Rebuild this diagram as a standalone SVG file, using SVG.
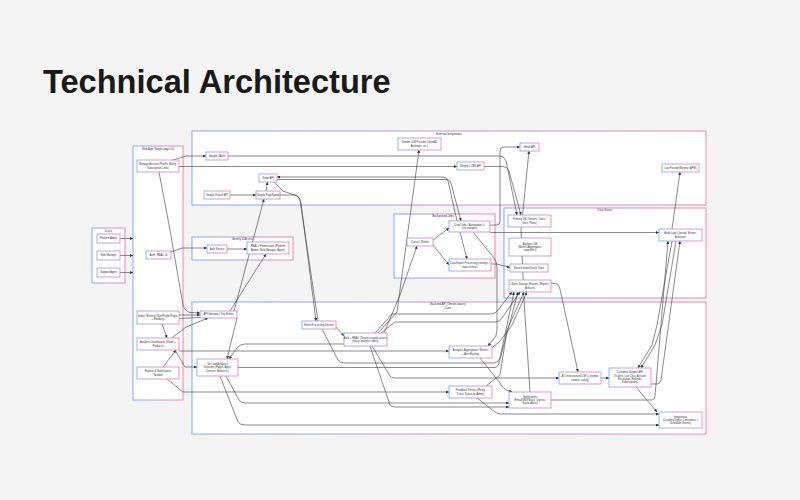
<svg xmlns="http://www.w3.org/2000/svg" width="800" height="500" viewBox="0 0 800 500">
<defs>
<linearGradient id="g" x1="0" y1="0" x2="1" y2="0"><stop offset="0" stop-color="#7f9ef7"/><stop offset="1" stop-color="#f07aa8"/></linearGradient>
<marker id="a" viewBox="0 0 6 6" refX="6" refY="3" markerWidth="3" markerHeight="3" orient="auto" markerUnits="userSpaceOnUse"><path d="M0,0 L6,3 L0,6 z" fill="#333"/></marker>
<style>
.cl rect{fill:#fff;stroke:url(#g);stroke-width:0.9}
.nd rect{fill:#fff;stroke:url(#g);stroke-width:0.8}
text{font-family:"Liberation Sans",Arial,sans-serif;fill:#333;text-anchor:middle}
.nd text{font-size:2.6px}
.cl text{font-size:2.8px}
#edges path{fill:none;stroke:#3a3a3a;stroke-width:0.6}
#edges path.ar{marker-end:url(#a)}
</style>
</defs>
<rect width="800" height="500" fill="#f4f4f4"/>
<text x="43" y="93" style="font-size:32.6px;font-weight:bold;fill:#1a1a1a;text-anchor:start">Technical Architecture</text>

<g id="clusters">
<g class="cl" id="c-users"><rect x="92" y="228" width="33" height="55"/><text x="108.5" y="231.5">Users</text></g>
<g class="cl" id="c-web"><rect x="133" y="146" width="50" height="254"/><text x="158" y="149.5">Web App (Single-page UI)</text></g>
<g class="cl" id="c-ext"><rect x="192" y="131" width="514" height="74"/><text x="449" y="134.5">External Integrations</text></g>
<g class="cl" id="c-id"><rect x="192" y="237" width="101" height="23"/><text x="242.5" y="240.3">Identity &amp; Access</text></g>
<g class="cl" id="c-jobs"><rect x="394" y="214" width="101" height="64"/><text x="443" y="217.3">Background Jobs</text></g>
<g class="cl" id="c-data"><rect x="504" y="208" width="202" height="90"/><text x="605" y="211.3">Data Stores</text></g>
<g class="cl" id="c-api"><rect x="192" y="302" width="514" height="132"/><text x="448" y="305.3">Backend API (Tenant-aware)</text><text x="448" y="309">Core</text></g>
</g>

<g id="edges">
<path class="ar" d="M120,238.5 L133,238.5"/>
<path class="ar" d="M120,255.5 L133,255.5"/>
<path class="ar" d="M120,272.5 L133,272.5"/>
<path class="ar" d="M173,160 L186,156 L206,156"/>
<path class="ar" d="M179,166.5 L457,166.5"/>
<path class="ar" d="M228,156 L500,156 Q504,156 506,161 L517,215"/>
<path class="ar" d="M484,166.5 L503,166.5 Q507,166.5 509,171 L521,215"/>
<path class="ar" d="M230,195 L256,195"/>
<path class="ar" d="M266,191 L267.5,182"/>
<path class="ar" d="M274,182 L283,191 L297,196 Q300,198 301,203 L316,321"/>
<path d="M280,195 L296,195 Q299,196 300,200 L318,321"/>
<path class="ar" d="M457,221 L448,181 Q447,177 443,177 L277,177"/>
<path class="ar" d="M277,179.5 L446,179.5 Q450,179.5 451,183 L461,221"/>
<path class="ar" d="M490,225 L497,225 Q500,225 500,221 L500,151 Q500,147 504,147 L520,147"/>
<path class="ar" d="M530,392 L524,300 L521,230 L529,151"/>
<path class="ar" d="M378,333 L397,312 L419,150"/>
<path class="ar" d="M384,333 L400,295 L417,246"/>
<path class="ar" d="M433,240 L449,228"/>
<path class="ar" d="M433,245 L449,265"/>
<path class="ar" d="M460,232 L467,259"/>
<path class="ar" d="M491,264 L497,264 L510,267.5"/>
<path class="ar" d="M490,232.5 L659,232.5"/>
<path class="ar" d="M473,232 L494,258 Q497,262 497,268 L497,330 Q497,336 493,340 L488,346"/>
<path class="ar" d="M672,229 L680,172"/>
<path class="ar" d="M171,252 L182,248 L207,248"/>
<path class="ar" d="M227,249 L247,249"/>
<path class="ar" d="M230,311 L266,254"/>
<path class="ar" d="M234,311 L264,199"/>
<path class="ar" d="M159,172 L170,230 L183,305 Q185,311 190,312.5 L200,313"/>
<path class="ar" d="M179,315 L200,315"/>
<path d="M179,318.5 L200,317.5"/>
<path class="ar" d="M162,324 L167,338"/>
<path class="ar" d="M172,338 L186,327 L208,318"/>
<path class="ar" d="M175,350 L185,367 L197,367"/>
<path class="ar" d="M179,351 L449,351"/>
<path class="ar" d="M163,367 L176,350"/>
<path class="ar" d="M167,379 L183,392 L449,392"/>
<path class="ar" d="M237,318 L227,359"/>
<path class="ar" d="M344,344 L245,344 Q240,344 237,348 L229,359"/>
<path class="ar" d="M238,367.5 L494,367.5 Q498,367.5 499,363 L518,292"/>
<path class="ar" d="M226,376 L239,400 Q241,403 246,403 L509,403"/>
<path class="ar" d="M370,346 L390,405 Q391,407 395,407 L509,407"/>
<path class="ar" d="M220,376 L238,422 Q240,425 245,425 L659,425"/>
<path class="ar" d="M372,346 L390,376 Q391,378 395,378 L559,378"/>
<path class="ar" d="M336,327 L344,336"/>
<path class="ar" d="M322,329 L338,360 Q340,363 345,363 L494,363 Q498,363 500,358 L514,292"/>
<path class="ar" d="M477,398 L495,412 Q497,414 501,414 L659,414"/>
<path class="ar" d="M486,386 L500,375 L507,330 L524,292"/>
<path class="ar" d="M492,348 L500,341 L512,325 L527,292"/>
<path class="ar" d="M480,358 L500,383 Q502,387 506,390 L512,392"/>
<path class="ar" d="M551,400 L652,400 Q655,400 655,396 L668,241"/>
<path class="ar" d="M651,384 L657,384 Q660,384 661,380 L680,241"/>
<path class="ar" d="M672,241 L657,325 L652,345 L638,368"/>
<path class="ar" d="M676,241 L662,325 L655,345 L641,368"/>
<path class="ar" d="M551,283 L557,284 Q559,285 560,289 L578,372"/>
<path class="ar" d="M601,378 L609,378"/>
<path class="ar" d="M636,387 L657,412"/>
<path class="ar" d="M375,333 L392,314 L490,314 Q496,314 498,310 L512,292"/>
<path class="ar" d="M381,333 L395,322 L495,322 Q500,322 502,318 L520,292"/>
</g>

<g class="nd" id="n-admin"><rect x="97" y="234" width="23" height="9"/><text x="108.5" y="239.4">Platform Admin</text></g>
<g class="nd" id="n-webmgr"><rect x="97" y="251" width="23" height="9"/><text x="108.5" y="256.4">Web Manager</text></g>
<g class="nd" id="n-agent"><rect x="97" y="268" width="23" height="9"/><text x="108.5" y="273.4">Support Agent</text></g>

<g class="nd" id="n-manage"><rect x="137" y="160" width="42" height="12"/><text x="158" y="165.25">Manage Account (Profile, Billing,</text><text x="158" y="168.55">Subscription Links)</text></g>
<g class="nd" id="n-authui"><rect x="146" y="251" width="25" height="8"/><text x="158.5" y="255.9">Auth / RBAC UI</text></g>
<g class="nd" id="n-index"><rect x="137" y="311" width="42" height="13"/><text x="158" y="316.75">Index / Refresh (Site/Profile/Pages</text><text x="158" y="320.05">+ Readers)</text></g>
<g class="nd" id="n-dash"><rect x="137" y="338" width="42" height="12"/><text x="158" y="343.25">Analytics Dashboards (Views +</text><text x="158" y="346.55">Products)</text></g>
<g class="nd" id="n-reports"><rect x="137" y="367" width="42" height="12"/><text x="158" y="372.25">Reports &amp; Notifications</text><text x="158" y="375.55">Needed</text></g>

<g class="nd" id="n-oauth"><rect x="206" y="152" width="22" height="8"/><text x="217" y="156.9">Google OAuth</text></g>
<g class="nd" id="n-search"><rect x="204" y="191" width="26" height="8"/><text x="217" y="195.9">Google Search API</text></g>
<g class="nd" id="n-stripe"><rect x="259" y="174" width="18" height="8"/><text x="268" y="178.9">Stripe API</text></g>
<g class="nd" id="n-speed"><rect x="256" y="191" width="24" height="8"/><text x="268" y="195.9">Google PageSpeed</text></g>
<g class="nd" id="n-llm"><rect x="398" y="138" width="43" height="12"/><text x="419.5" y="143.25">Vendor LLM Provider (OpenAI,</text><text x="419.5" y="146.55">Anthropic, etc.)</text></g>
<g class="nd" id="n-cms"><rect x="457" y="162" width="27" height="8"/><text x="470.5" y="166.9">Shopify / CMS API</text></g>
<g class="nd" id="n-email"><rect x="520" y="143" width="19" height="8"/><text x="529.5" y="147.9">Email API</text></g>
<g class="nd" id="n-logprov"><rect x="662" y="164" width="37" height="8"/><text x="680.5" y="168.9">Log Provider/Monitor (APM)</text></g>

<g class="nd" id="n-authsvc"><rect x="207" y="245" width="20" height="8"/><text x="217" y="249.9">Auth Service</text></g>
<g class="nd" id="n-rbac"><rect x="247" y="242" width="42" height="12"/><text x="268" y="247.25">RBAC / Permissions (Platform</text><text x="268" y="250.55">Admin, Web Manager, Agent)</text></g>

<g class="nd" id="n-queue"><rect x="407" y="238" width="26" height="8"/><text x="420" y="242.9">Queue / Worker</text></g>
<g class="nd" id="n-crawl"><rect x="449" y="221" width="41" height="11"/><text x="469.5" y="225.75">Crawl Jobs / Autoupdate (+</text><text x="469.5" y="229.05">site changes)</text></g>
<g class="nd" id="n-export"><rect x="449" y="259" width="42" height="12"/><text x="470" y="264.25">Data Export Processing (storage +</text><text x="470" y="267.55">data archive)</text></g>

<g class="nd" id="n-primary"><rect x="508" y="215" width="43" height="12"/><text x="529.5" y="220.25">Primary DB (Tenants, Users,</text><text x="529.5" y="223.55">Sites, Plans)</text></g>
<g class="nd" id="n-anadb"><rect x="509" y="238" width="42" height="18"/><text x="530" y="244.6">Analytics DB</text><text x="530" y="247.9">(Metrics/Aggregates,</text><text x="530" y="251.2">snapshots)</text></g>
<g class="nd" id="n-index2"><rect x="510" y="264" width="38" height="8"/><text x="529" y="268.9">Search Index/Vector Store</text></g>
<g class="nd" id="n-object"><rect x="509" y="280" width="42" height="12"/><text x="530" y="285.25">Object Storage (Exports, Reports,</text><text x="530" y="288.55">Artifacts)</text></g>
<g class="nd" id="n-audit"><rect x="659" y="229" width="43" height="12"/><text x="680.5" y="234.25">Audit Logs (Journal, Events,</text><text x="680.5" y="237.55">Activities)</text></g>

<g class="nd" id="n-gateway"><rect x="200" y="311" width="37" height="7"/><text x="218.5" y="315.4">API Gateway / Key Broker</text></g>
<g class="nd" id="n-site"><rect x="197" y="359" width="41" height="17"/><text x="217.5" y="365.1">Site and Analytics</text><text x="217.5" y="368.4">Sessions (Pages, Apps,</text><text x="217.5" y="371.7">Devices, Referrers)</text></g>
<g class="nd" id="n-event"><rect x="302" y="321" width="34" height="8"/><text x="319" y="325.9">Event Processing Service</text></g>
<g class="nd" id="n-authz"><rect x="344" y="333" width="43" height="13"/><text x="365.5" y="338.75">Auth + RBAC (Tenant-scoped access,</text><text x="365.5" y="342.05">policy, analytics index)</text></g>
<g class="nd" id="n-agg"><rect x="449" y="346" width="43" height="12"/><text x="470.5" y="351.25">Analytics Aggregation / Metrics</text><text x="470.5" y="354.55">+ Alert Routing</text></g>
<g class="nd" id="n-feedback"><rect x="449" y="386" width="43" height="12"/><text x="470.5" y="391.25">Feedback Service (Reply,</text><text x="470.5" y="394.55">Ticket, Status by Admin)</text></g>
<g class="nd" id="n-notify"><rect x="509" y="392" width="42" height="16"/><text x="530" y="397.6">Notifications</text><text x="530" y="400.9">(Email/SMS/Slack, Digests,</text><text x="530" y="404.2">Status Alerts)</text></g>
<g class="nd" id="n-ai"><rect x="559" y="372" width="42" height="12"/><text x="580" y="377.25">AI Orchestration/LLM (+ prompt,</text><text x="580" y="380.55">context, safety)</text></g>
<g class="nd" id="n-support"><rect x="609" y="368" width="42" height="19"/><text x="630" y="373.45">Customer Support API</text><text x="630" y="376.75">(Tickets, Live Chat, Account</text><text x="630" y="380.05">Escalation, Refunds,</text><text x="630" y="383.35">Subscriptions)</text></g>
<g class="nd" id="n-integr"><rect x="659" y="412" width="43" height="16"/><text x="680.5" y="417.6">Integrations</text><text x="680.5" y="420.9">(Crawlers/Ingest Consumers +</text><text x="680.5" y="424.2">Scheduler Events)</text></g>
</svg>
